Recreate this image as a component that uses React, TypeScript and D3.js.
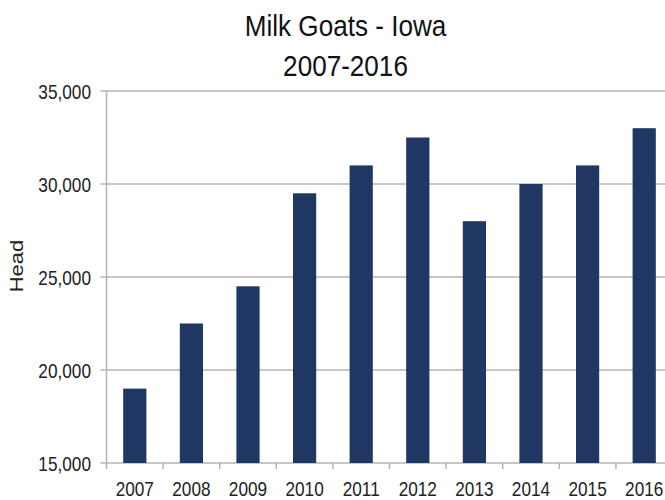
import React from "react";
import * as d3 from "d3";

const years: string[] = ["2007", "2008", "2009", "2010", "2011", "2012", "2013", "2014", "2015", "2016"];
const head: number[] = [19000, 22500, 24500, 29500, 31000, 32500, 28000, 30000, 31000, 33000];
const yTicks: number[] = [15000, 20000, 25000, 30000, 35000];
const titleLines: string[] = ["Milk Goats - Iowa", "2007-2016"];
const yLabel = "Head";

const W = 665;
const H = 500;
const left = 106.5;
const right = 672.5;
const top = 91;
const bottom = 463;
const sans = "'Liberation Sans', Arial, sans-serif";
const grid = "#b4b4b4";
const barColor = "#1f3762";
const sx = 0.82;

export default function App() {
  const x = d3.scaleBand<string>().domain(years).range([left, right]).paddingInner(0.59).paddingOuter(0.295);
  const y = d3.scaleLinear().domain([15000, 35000]).range([bottom, top]);
  const step = x.step();
  const fmt = d3.format(",");
  const boundaries = years.slice(1).map((d) => (x(d) as number) - (step - x.bandwidth()) / 2);

  return (
    <svg width={W} height={H} style={{ position: "absolute", left: 0, top: 0, background: "#fff" }}>
      <rect x={0} y={0} width={W} height={H} fill="#fff" />
      {titleLines.map((t, i) => (
        <text
          key={t}
          transform={`translate(345.5,${36 + i * 40}) scale(0.9,1)`}
          textAnchor="middle"
          fontFamily={sans}
          fontSize={29}
          fill="#111"
        >
          {t}
        </text>
      ))}
      {yTicks.map((t) => (
        <g key={t}>
          <line x1={left - 6} x2={W} y1={y(t)} y2={y(t)} stroke={grid} strokeWidth={1.5} />
          <text
            transform={`translate(91,${y(t)}) scale(${sx},1)`}
            dy="0.36em"
            textAnchor="end"
            fontFamily={sans}
            fontSize={21}
            fill="#222"
          >
            {fmt(t)}
          </text>
        </g>
      ))}
      <line x1={left} x2={left} y1={top} y2={bottom + 6} stroke={grid} strokeWidth={1.5} />
      {boundaries.map((b, i) => (
        <line key={i} x1={b} x2={b} y1={bottom} y2={bottom + 6} stroke={grid} strokeWidth={1.5} />
      ))}
      {years.map((d, i) => (
        <rect key={d} x={x(d)} y={y(head[i])} width={x.bandwidth()} height={bottom - y(head[i])} fill={barColor} />
      ))}
      {years.map((d) => (
        <text
          key={d}
          transform={`translate(${(x(d) as number) + x.bandwidth() / 2},496) scale(${sx},1)`}
          textAnchor="middle"
          fontFamily={sans}
          fontSize={21}
          fill="#222"
        >
          {d}
        </text>
      ))}
      <text
        transform={`translate(23,266) scale(${sx},1) rotate(-90)`}
        textAnchor="middle"
        fontFamily={sans}
        fontSize={22}
        fill="#222"
      >
        {yLabel}
      </text>
    </svg>
  );
}
